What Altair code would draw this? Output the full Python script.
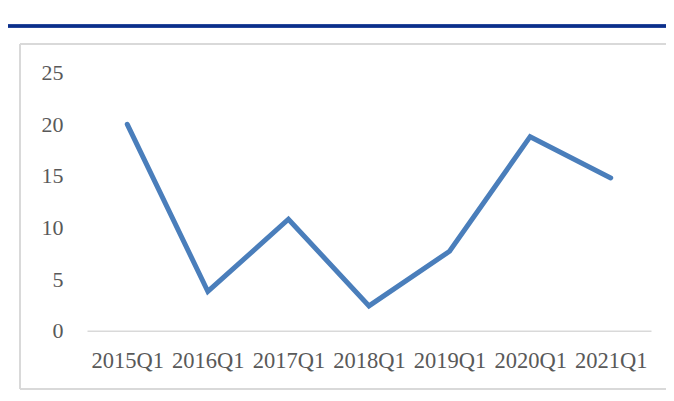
import altair as alt
import pandas as pd

quarters = ["2015Q1", "2016Q1", "2017Q1", "2018Q1", "2019Q1", "2020Q1", "2021Q1"]
values = [20.0, 3.8, 10.8, 2.4, 7.7, 18.8, 14.8]
y_ticks = [0, 5, 10, 15, 20, 25]

df = pd.DataFrame({"q": quarters, "v": values})

W, H = 564, 258
PL, PT = 79, 64.7
TOTAL_W, TOTAL_H = 658, 385

FONT = "Liberation Serif"

x_enc = alt.X("q:N", sort=quarters, title=None,
              scale=alt.Scale(paddingInner=0, paddingOuter=0, align=0.5),
              axis=alt.Axis(labelAngle=0, labelFont=FONT, labelFontSize=22.5,
                            labelColor="#595959", domainColor="#d9d9d9",
                            domainWidth=1.5, ticks=False, labelPadding=19,
                            grid=False))
y_enc = alt.Y("v:Q", title=None,
              scale=alt.Scale(domain=[0, 25], nice=False, zero=True),
              axis=alt.Axis(values=y_ticks, labelFont=FONT, labelFontSize=22,
                            labelColor="#595959", domain=False, ticks=False,
                            grid=False, labelPadding=24))

line = alt.Chart(df).mark_line(
    color="#4a7ebb", strokeWidth=5, strokeCap="round", strokeJoin="miter"
).encode(x=x_enc, y=y_enc)

L, R, T, B = 20 - 87, TOTAL_W - PL + 20, 44 - 72.7, 389 - 72.7

frame = pd.DataFrame({
    "x1": [L, L, L], "x2": [R, R, L], "y1": [T, B, T], "y2": [T, B, B],
})

box = alt.Chart(frame).mark_rule(color="#d9d9d9", strokeWidth=2).encode(
    x=alt.X("x1:Q", scale=None), x2="x2:Q",
    y=alt.Y("y1:Q", scale=None), y2="y2:Q")

navy = alt.Chart(df).mark_rule(color="#0b2f8a", strokeWidth=2.5).encode(
    x=alt.value(7 - 87), x2=alt.value(R), y=alt.value(26 - 72.7)
)

chart = alt.layer(box, navy, line).resolve_scale(x="independent", y="independent").properties(
    width=W, height=H,
    autosize=alt.AutoSizeParams(type="none"),
    padding={"left": PL, "top": PT, "right": TOTAL_W - PL - W,
             "bottom": TOTAL_H - PT - H},
).configure(background="white").configure_view(stroke=None)

chart.save("out.html", embed_options={"renderer": "svg", "actions": False})
